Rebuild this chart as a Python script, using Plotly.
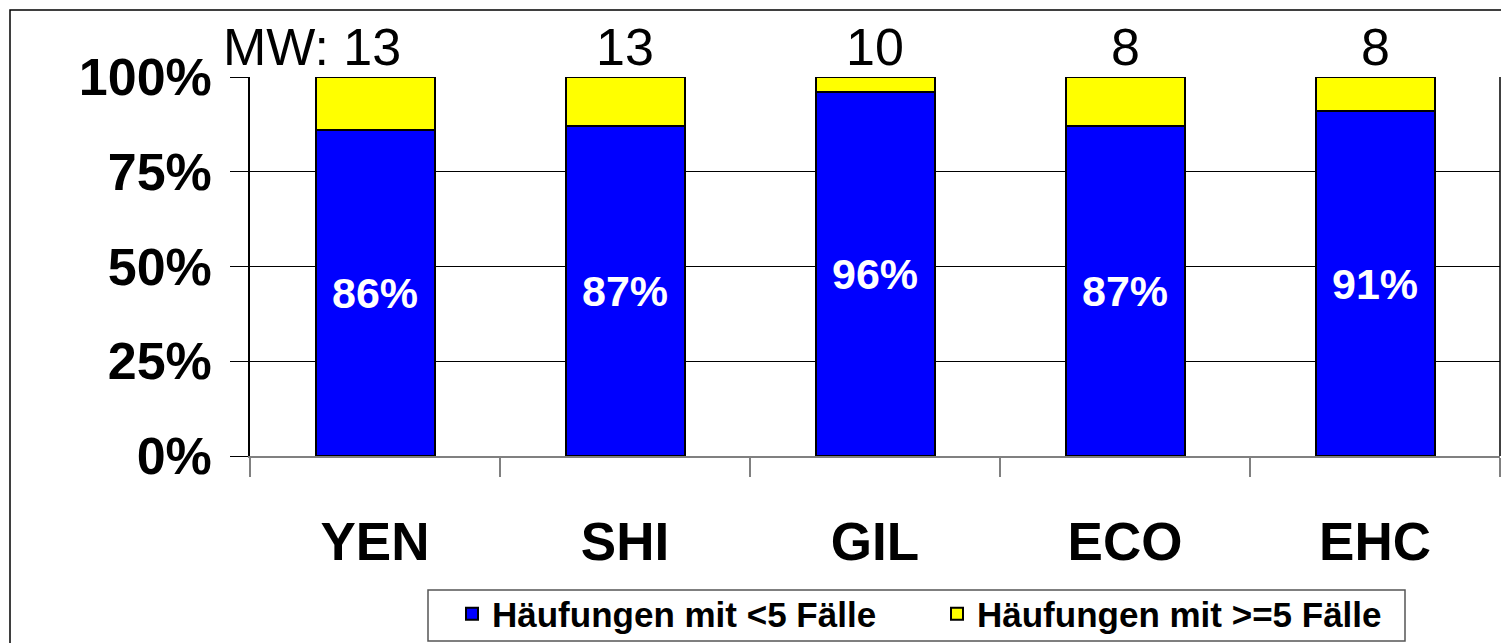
import plotly.graph_objects as go

categories = ["YEN", "SHI", "GIL", "ECO", "EHC"]
small_clusters = [86, 87, 96, 87, 91]          # Häufungen mit <5 Fälle (%)
large_clusters = [100 - v for v in small_clusters]  # Häufungen mit >=5 Fälle (%)
mean_values = [13, 13, 10, 8, 8]               # MW
y_ticks = [0, 25, 50, 75, 100]

FONT = "Liberation Sans, Arial, sans-serif"

fig = go.Figure()
fig.add_trace(go.Bar(
    x=categories, y=small_clusters, name="<b>Häufungen mit <5 Fälle</b>",
    marker=dict(color="#0000FF", line=dict(color="black", width=2)),
    texttemplate="<b>%{y:.0f}%</b>", textposition="inside",
    insidetextanchor="middle", textangle=0,
    textfont=dict(color="white", size=43, family=FONT),
))
fig.add_trace(go.Bar(
    x=categories, y=large_clusters, name="<b>Häufungen mit >=5 Fälle</b>",
    marker=dict(color="#FFFF00", line=dict(color="black", width=2)),
    hoverinfo="skip",
))

for i, (c, m) in enumerate(zip(categories, mean_values)):
    if i == 0:
        fig.add_annotation(x=c, y=100, xref="x", yref="y", text=f"MW: {m}",
                           xanchor="right", yanchor="bottom", xshift=28, yshift=-1,
                           showarrow=False, font=dict(size=52, family=FONT, color="black"))
    else:
        fig.add_annotation(x=c, y=100, xref="x", yref="y", text=str(m),
                           xanchor="center", yanchor="bottom", yshift=-1,
                           showarrow=False, font=dict(size=52, family=FONT, color="black"))

# outer frame
fig.add_shape(type="rect", xref="paper", yref="paper",
              x0=-0.192, x1=1.05, y0=-0.7, y1=1.1768,
              line=dict(color="black", width=1.5), layer="below")
# legend box
fig.add_shape(type="rect", xref="paper", yref="paper",
              x0=0.1424, x1=0.924, y0=-0.488, y1=-0.3536,
              line=dict(color="#555555", width=1.5), fillcolor="white", layer="below")

fig.update_layout(
    width=1501, height=643,
    margin=dict(l=250, r=1, t=77, b=187, autoexpand=False),
    barmode="stack", bargap=0.524,
    plot_bgcolor="white", paper_bgcolor="white",
    font=dict(family=FONT, color="black"),
    showlegend=True,
    legend=dict(orientation="h", x=0.1616, xanchor="left", y=-0.417, yanchor="middle",
                borderwidth=0, bgcolor="rgba(0,0,0,0)",
                font=dict(size=35, family=FONT), itemsizing="constant",
                traceorder="normal", itemwidth=30, entrywidth=440,
                valign="middle"),
    xaxis=dict(
        type="category", range=[-0.5, 4.5], automargin=False,
        showline=True, linecolor="#808080", linewidth=2, mirror=False,
        ticks="outside", tickson="boundaries", ticklen=19, tickcolor="#808080", tickwidth=2,
        tickfont=dict(size=53, family=FONT), ticklabelstandoff=38,
        tickprefix="<b>", ticksuffix="</b>", showgrid=False,
    ),
    yaxis=dict(
        range=[0, 100], automargin=False,
        tickvals=y_ticks, ticktext=[f"<b>{v}%</b>" for v in y_ticks],
        showgrid=True, gridcolor="black", gridwidth=1,
        showline=True, linecolor="black", linewidth=1.5,
        ticks="outside", ticklen=18, tickcolor="black",
        tickfont=dict(size=52, family=FONT), ticklabelstandoff=8,
        zeroline=False,
    ),
)
# right border of plot area
fig.add_shape(type="line", xref="paper", yref="paper", x0=1, x1=1, y0=0, y1=1,
              line=dict(color="black", width=1.5))

fig.write_html("out.html", config={"displayModeBar": False},
               post_script="document.body.style.margin='0';document.body.style.overflow='hidden';")
